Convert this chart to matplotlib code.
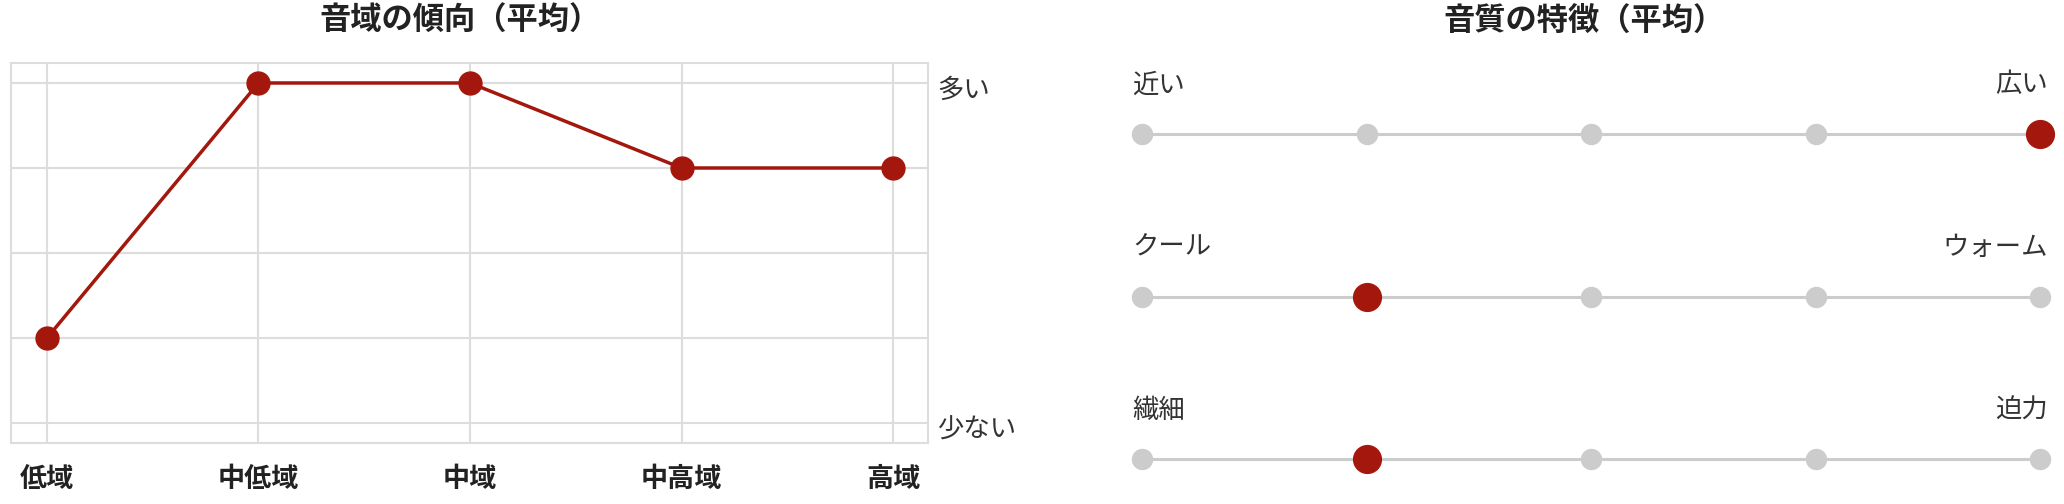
import matplotlib
matplotlib.use("Agg")
import matplotlib.pyplot as plt

plt.rcParams['font.family'] = ['Noto Sans CJK JP', 'DejaVu Sans']

# 音域の傾向
bands = ["低域", "中低域", "中域", "中高域", "高域"]
band_values = [2, 5, 5, 4, 4]
level_labels = {5: "多い", 1: "少ない"}

# 音質の特徴
pair_left = ["近い", "クール", "繊細"]
pair_right = ["広い", "ウォーム", "迫力"]
pair_values = [5, 2, 2]   # 1..5 の位置
n_steps = 5

RED = "#a3170c"
GRID = "#dddddd"
DOT = "#cccccc"
W, H = 2064, 504

fig = plt.figure(figsize=(W / 100, H / 100), dpi=100, facecolor="white")


def px_box(x0, y0, x1, y1):
    # pixel box (top-left origin) -> figure fraction
    return [x0 / W, 1 - y1 / H, (x1 - x0) / W, (y1 - y0) / H]


# ---- left: line chart ----
ax = fig.add_axes(px_box(11, 63, 928, 443))
xs = list(range(len(bands)))
ax.plot(xs, band_values, color=RED, lw=2.5, marker="o", markersize=16.5,
        markeredgecolor=RED, zorder=3, clip_on=False)
ax.set_xlim(-0.17, 4.165)
ax.set_ylim(0.765, 5.235)
ax.set_xticks(xs)
ax.set_xticklabels(bands, fontsize=19.5, fontweight="bold", color="#222222")
ax.set_yticks([1, 2, 3, 4, 5])
ax.set_yticklabels([])
ax.tick_params(axis="both", length=0)
ax.tick_params(axis="x", pad=16)
ax.grid(True, color=GRID, lw=1.5)
ax.set_axisbelow(True)
for sp in ax.spines.values():
    sp.set_color(GRID)
    sp.set_linewidth(1.5)
for v, lab in level_labels.items():
    ax.annotate(lab, xy=(1, v), xycoords=("axes fraction", "data"),
                xytext=(9, -7), textcoords="offset pixels",
                ha="left", va="center", fontsize=19, color="#333333")

fig.text(460 / W, 1 - 21 / H, "音域の傾向（平均）", ha="center", va="center",
         fontsize=22.5, fontweight="bold", color="#222222")

# ---- right: slider rows ----
ax2 = fig.add_axes(px_box(1142, 134, 2040, 459))
ax2.set_xlim(0, n_steps - 1)
ax2.set_ylim(len(pair_values) - 1, 0)
ax2.axis("off")
for row, val in enumerate(pair_values):
    steps = list(range(n_steps))
    ax2.plot([steps[0], steps[-1]], [row, row], color=DOT, lw=2.2,
             zorder=1, clip_on=False)
    for s in steps:
        if s == val - 1:
            ax2.plot(s, row, "o", color=RED, markersize=20, zorder=3, clip_on=False)
        else:
            ax2.plot(s, row, "o", color=DOT, markersize=14.4, zorder=2, clip_on=False)
    ax2.annotate(pair_left[row], xy=(0, row), xytext=(-10, 49),
                 textcoords="offset pixels", ha="left", va="center",
                 fontsize=19, color="#333333")
    ax2.annotate(pair_right[row], xy=(n_steps - 1, row), xytext=(8, 49),
                 textcoords="offset pixels", ha="right", va="center",
                 fontsize=19, color="#333333")

fig.text(1584 / W, 1 - 21 / H, "音質の特徴（平均）", ha="center", va="center",
         fontsize=22.5, fontweight="bold", color="#222222")

fig.savefig("out.png", dpi=100, facecolor="white")
